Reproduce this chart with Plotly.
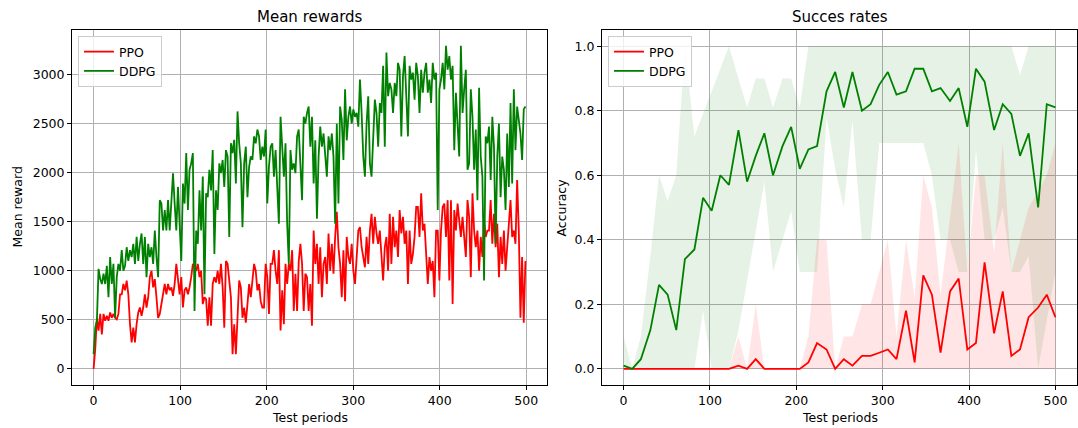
import numpy as np
import plotly.graph_objects as go

# ---------------- Mean rewards (left panel) ----------------
ppo_reward = [
    0, 200, 520, 390, 560, 350, 560, 490, 540, 490,
    575, 520, 560, 520, 505, 560, 760, 760, 865, 800,
    900, 760, 455, 270, 420, 270, 455, 575, 625, 540,
    625, 760, 625, 730, 935, 1000, 830, 915, 730, 520,
    560, 675, 800, 865, 760, 865, 800, 830, 745, 865,
    1070, 935, 760, 935, 625, 800, 830, 760, 830, 935,
    1070, 1030, 1000,
    1070, 935, 1000, 660, 730, 710, 440, 730, 440, 865,
    935, 880, 1000, 865, 1070, 830, 420, 1100, 1070, 865,
    730, 150, 455, 150, 590, 900, 830, 520, 625, 470,
    660, 865, 730, 900, 1070, 1000, 800, 865, 690, 625,
    625, 1070, 935, 560, 1070, 1070, 1210, 1000, 865, 1210,
    390, 800, 455, 1070, 865, 1070, 1000, 1210, 590, 970,
    590, 1100, 1275, 1070, 590, 970, 935,
    590, 865, 440, 1410, 1070, 1275, 865, 1240, 730, 1070,
    1140, 865, 1380, 1000, 1275, 970, 1345, 1600, 1240, 1070,
    730, 1210, 690, 1345, 1140, 1070, 1275, 1000, 865, 1210,
    1410, 1445, 1240, 1140, 1035, 1345, 1070, 1410, 1580, 1275,
    1550, 1380, 1275, 1410, 1140, 900, 1240, 1345, 1000, 1580,
    1070, 1550, 1240, 1410, 1140, 1620, 1380, 1550, 1275, 1410,
    865, 1410, 1070, 1170, 1345, 1650,
    1650, 1345, 1790, 1410, 1480, 1140, 865, 1140, 1000, 1100,
    730, 1410, 1410, 900, 1410, 1650, 1685, 1345, 1720, 900,
    1720, 660, 1620, 1410, 1685, 1515, 1345, 1550, 1345, 1140,
    1720, 1550, 935, 1790, 1410, 1240, 1410, 1000, 1345, 1140,
    1515, 1345, 1410, 1410, 1720, 1275, 1580, 1240, 1480, 935,
    1345, 1070, 1410, 1000, 1240, 1445, 1720, 1345, 1410, 1275,
    1925, 1410, 520, 1140, 470, 1100,
]

ddpg_reward = [
    150, 420, 490, 1020, 915, 865, 970, 865, 1050, 730,
    1140, 865, 1070, 520, 935, 1070, 1000, 1210, 1000, 1050,
    1240, 1100, 1210, 1140, 1275, 1070, 1345, 1100, 1275, 1380,
    1070, 1345, 935, 1275, 1140, 1240, 1070, 1410, 1140, 935,
    1720, 1685, 1410, 1620, 1410, 1720, 1410, 1650, 1995, 1685,
    1410, 1855, 1410, 1100, 1890, 1685, 2200, 1620, 2030, 2095,
    2200, 590, 1410,
    1275, 1820, 1410, 1960, 760, 1790, 1750, 2030, 1820, 2230,
    1170, 1820, 1620, 2095, 1995, 2130, 1855, 2230, 2165, 1345,
    2300, 2200, 2335, 1890, 2625, 2300, 2095, 1445, 2095, 2265,
    1750, 2060, 2165, 2130, 2370, 2300, 2440, 2370, 2130, 2265,
    2165, 2440, 1685, 2060, 2265, 2300, 1960, 2230, 1750, 1480,
    2570, 2300, 1960, 2300, 1480, 1070, 2230, 2030, 2095, 1995,
    2370, 2440, 2095, 1720, 2570, 2500, 2610,
    2675, 2265, 2570, 1890, 2330, 1530, 2165, 2470, 2265, 2400,
    2200, 1960, 2370, 2230, 2400, 2165, 1480, 2500, 1685, 2675,
    2540, 2130, 2850, 2330, 2570, 2675, 2500, 2645, 2570, 2610,
    2470, 2950, 2610, 2165, 1960, 2500, 2780, 2095, 1960, 2440,
    2745, 2610, 2265, 2710, 2610, 3090, 2265, 3225, 2780, 2915,
    2850, 2610, 2915, 2780, 3120, 3050, 2370, 2985, 3190, 2780,
    2370, 3090, 2950, 3020, 2745, 3120,
    2985, 2610, 3050, 2815, 3020, 3120, 2815, 2950, 2710, 3120,
    2950, 3020, 1620, 2850, 2950, 3120, 2850, 3295, 3050, 3190,
    2950, 3090, 2230, 2815, 2500, 2165, 3295, 2610, 2850, 3050,
    2030, 2095, 2850, 2570, 2030, 2440, 1720, 2865, 2165, 1960,
    900, 2370, 2300, 2470, 1925, 2570, 2265, 1275, 2165, 2500,
    1750, 2165, 2030, 1620, 2400, 1855, 2710, 1890, 2850, 2230,
    2675, 2500, 2400, 2130, 2645, 2675,
]

reward_periods = np.linspace(0, 499, len(ppo_reward))

# ---------------- Success rates (right panel) ----------------
rate_periods = [0, 10, 20, 31, 41, 51, 61, 71, 82, 92,
                102, 112, 122, 133, 143, 153, 163, 173, 184, 194,
                204, 214, 224, 235, 245, 255, 265, 276, 286, 296,
                306, 316, 327, 337, 347, 357, 367, 378, 388, 398,
                408, 418, 429, 439, 449, 459, 469, 480, 490, 500]

ppo_rate = [0, 0, 0, 0, 0, 0, 0, 0, 0, 0,
            0, 0, 0, 0.01, 0, 0.03, 0, 0, 0, 0,
            0, 0.02, 0.08, 0.06, 0, 0.03, 0.01, 0.04, 0.04, 0.05,
            0.06, 0.03, 0.18, 0.02, 0.29, 0.23, 0.05, 0.24, 0.28, 0.06,
            0.08, 0.33, 0.11, 0.24, 0.04, 0.06, 0.16, 0.19, 0.23, 0.16]
ppo_rate_low = [0] * 50
ppo_rate_high = [0, 0, 0, 0, 0, 0, 0, 0, 0, 0,
                 0, 0, 0, 0.1, 0, 0.2, 0, 0, 0, 0,
                 0, 0.1, 0.4, 0.4, 0, 0.1, 0.1, 0.2, 0.2, 0.3,
                 0.4, 0.1, 0.4, 0.22, 0.6, 0.5, 0.23, 0.47, 0.7, 0.3,
                 0.6, 0.6, 0.36, 0.7, 0.3, 0.4, 0.5, 0.55, 0.6, 0.7]

ddpg_rate = [0.01, 0.0, 0.03, 0.12, 0.26, 0.23, 0.12, 0.34, 0.37, 0.53,
             0.49, 0.60, 0.57, 0.74, 0.58, 0.66, 0.73, 0.60, 0.69, 0.75,
             0.62, 0.68, 0.69, 0.86, 0.92, 0.81, 0.92, 0.80, 0.82, 0.88,
             0.92, 0.85, 0.86, 0.93, 0.93, 0.86, 0.87, 0.83, 0.87, 0.75,
             0.93, 0.89, 0.74, 0.82, 0.79, 0.66, 0.73, 0.50, 0.82, 0.81]
ddpg_rate_low = [0, 0, 0, 0, 0, 0, 0, 0, 0, 0.18,
                 0, 0, 0, 0.12, 0.27, 0.43, 0.58, 0.3, 0.4, 0.49,
                 0.3, 0.3, 0.3, 0.78, 0.62, 0.5, 0.77, 0.4, 0.4, 0.7,
                 0.7, 0.7, 0.7, 0.7, 0.7, 0.6, 0.4, 0.4, 0.3, 0.3,
                 0.68, 0.4, 0.4, 0.5, 0.3, 0.3, 0.35, 0.0, 0.15, 0.3]
ddpg_rate_high = [0.1, 0.0, 0.1, 0.35, 0.6, 0.52, 0.6, 1.0, 0.72, 0.79,
                  0.86, 0.93, 1.0, 0.9, 0.81, 0.9, 0.9, 0.81, 0.9, 0.9,
                  0.81, 1.0, 1.0, 1.0, 1.0, 1.0, 1.0, 1.0, 1.0, 1.0,
                  1.0, 1.0, 1.0, 1.0, 1.0, 1.0, 1.0, 1.0, 1.0, 1.0,
                  1.0, 1.0, 1.0, 1.0, 1.0, 0.91, 1.0, 1.0, 1.0, 1.0]

RED = "#ff0000"
GREEN = "#008000"
FONT = "DejaVu Sans"

fig = go.Figure()

# bands (right panel)
fig.add_trace(go.Scatter(x=rate_periods, y=ddpg_rate_low, mode="lines",
                         line=dict(width=0), showlegend=False, hoverinfo="skip",
                         xaxis="x2", yaxis="y2"))
fig.add_trace(go.Scatter(x=rate_periods, y=ddpg_rate_high, mode="lines",
                         line=dict(width=0), fill="tonexty",
                         fillcolor="rgba(0,128,0,0.1)", showlegend=False,
                         hoverinfo="skip", xaxis="x2", yaxis="y2"))
fig.add_trace(go.Scatter(x=rate_periods, y=ppo_rate_low, mode="lines",
                         line=dict(width=0), showlegend=False, hoverinfo="skip",
                         xaxis="x2", yaxis="y2"))
fig.add_trace(go.Scatter(x=rate_periods, y=ppo_rate_high, mode="lines",
                         line=dict(width=0), fill="tonexty",
                         fillcolor="rgba(255,0,0,0.1)", showlegend=False,
                         hoverinfo="skip", xaxis="x2", yaxis="y2"))

# lines
fig.add_trace(go.Scatter(x=reward_periods, y=ppo_reward, mode="lines", name="PPO",
                         line=dict(color=RED, width=1.8), xaxis="x", yaxis="y",
                         legend="legend"))
fig.add_trace(go.Scatter(x=reward_periods, y=ddpg_reward, mode="lines", name="DDPG",
                         line=dict(color=GREEN, width=1.8), xaxis="x", yaxis="y",
                         legend="legend"))
fig.add_trace(go.Scatter(x=rate_periods, y=ppo_rate, mode="lines", name="PPO",
                         line=dict(color=RED, width=1.8), xaxis="x2", yaxis="y2",
                         legend="legend2"))
fig.add_trace(go.Scatter(x=rate_periods, y=ddpg_rate, mode="lines", name="DDPG",
                         line=dict(color=GREEN, width=1.8), xaxis="x2", yaxis="y2",
                         legend="legend2"))

W, H = 1078, 428
L1, R1 = 72, 547
L2, R2 = 602, 1077
TOP, BOT = 30, 385

axis_common = dict(
    showgrid=True, gridcolor="#b0b0b0", gridwidth=0.8,
    showline=True, linecolor="black", linewidth=1, mirror=True,
    ticks="outside", ticklen=4, tickcolor="black", tickwidth=1,
    zeroline=False, tickfont=dict(family=FONT, size=12.5, color="black"),
)

ydom = [1 - BOT / H, 1 - TOP / H]

fig.update_layout(
    width=W, height=H,
    margin=dict(l=0, r=0, t=0, b=0),
    paper_bgcolor="white", plot_bgcolor="white",
    font=dict(family=FONT, size=12.5, color="black"),
    xaxis=dict(domain=[L1 / W, R1 / W], range=[-24.95, 523.95],
               tickvals=[0, 100, 200, 300, 400, 500], anchor="y", **axis_common),
    yaxis=dict(domain=ydom, range=[-165, 3455],
               tickvals=[0, 500, 1000, 1500, 2000, 2500, 3000], anchor="x", **axis_common),
    xaxis2=dict(domain=[L2 / W, R2 / W], range=[-25, 525],
                tickvals=[0, 100, 200, 300, 400, 500], anchor="y2", **axis_common),
    yaxis2=dict(domain=ydom, range=[-0.05, 1.05],
                tickvals=[0, 0.2, 0.4, 0.6, 0.8, 1.0],
                ticktext=["0.0", "0.2", "0.4", "0.6", "0.8", "1.0"],
                anchor="x2", **axis_common),
    legend=dict(x=78 / W, y=1 - 36 / H, xanchor="left", yanchor="top",
                traceorder="normal",
                bgcolor="rgba(255,255,255,0.8)", bordercolor="#cccccc", borderwidth=1,
                font=dict(family=FONT, size=12.5), itemwidth=30, tracegroupgap=0),
    legend2=dict(x=608 / W, y=1 - 36 / H, xanchor="left", yanchor="top",
                 traceorder="normal",
                 bgcolor="rgba(255,255,255,0.8)", bordercolor="#cccccc", borderwidth=1,
                 font=dict(family=FONT, size=12.5), itemwidth=30, tracegroupgap=0),
    annotations=[
        dict(text="Mean rewards", x=(L1 + R1) / 2 / W, y=1 - 17 / H, xref="paper", yref="paper",
             showarrow=False, xanchor="center", yanchor="middle", font=dict(size=15)),
        dict(text="Succes rates", x=(L2 + R2) / 2 / W, y=1 - 17 / H, xref="paper", yref="paper",
             showarrow=False, xanchor="center", yanchor="middle", font=dict(size=15)),
        dict(text="Test periods", x=(L1 + R1) / 2 / W, y=1 - 417 / H, xref="paper", yref="paper",
             showarrow=False, xanchor="center", yanchor="middle", font=dict(size=12.5)),
        dict(text="Test periods", x=(L2 + R2) / 2 / W, y=1 - 417 / H, xref="paper", yref="paper",
             showarrow=False, xanchor="center", yanchor="middle", font=dict(size=12.5)),
        dict(text="Mean reward", x=17 / W, y=(1 - (TOP + BOT) / 2 / H), xref="paper", yref="paper",
             showarrow=False, xanchor="center", yanchor="middle", textangle=-90,
             font=dict(size=12.5)),
        dict(text="Accuracy", x=561 / W, y=(1 - (TOP + BOT) / 2 / H), xref="paper", yref="paper",
             showarrow=False, xanchor="center", yanchor="middle", textangle=-90,
             font=dict(size=12.5)),
    ],
)

fig.write_html("out.html")
